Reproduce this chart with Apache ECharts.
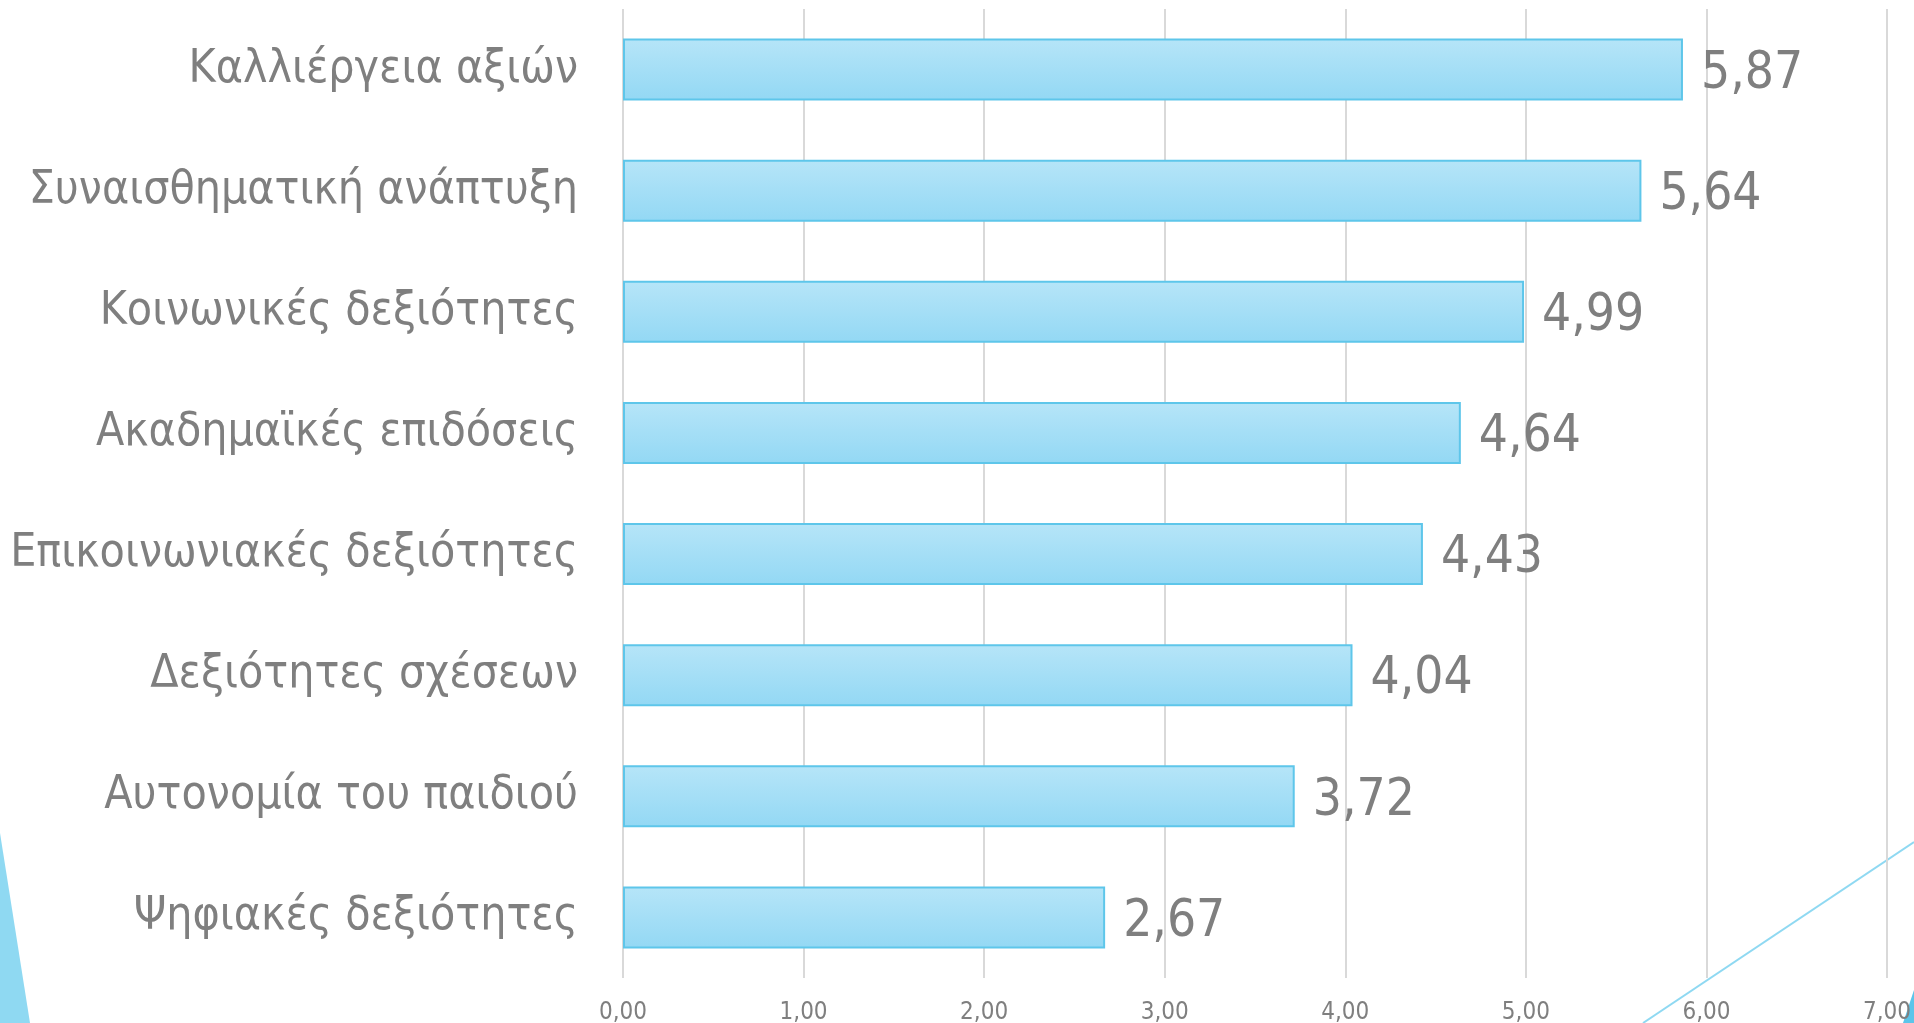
<html>
    <head>
        <meta charset="utf-8">
        <script src="https://cdn.jsdelivr.net/npm/echarts@6/dist/echarts.min.js"></script>
    </head>
    <body>
        <style>
            html, body, #main {
                width: 100%;
                height: 100%;
                margin: 0;
                background: #fff;
            }
        </style>
        <div id="main"></div>
        <script>

        // top to bottom, as shown
        var categories = [
            'Καλλιέργεια αξιών',
            'Συναισθηματική ανάπτυξη',
            'Κοινωνικές δεξιότητες',
            'Ακαδημαϊκές επιδόσεις',
            'Επικοινωνιακές δεξιότητες',
            'Δεξιότητες σχέσεων',
            'Αυτονομία του παιδιού',
            'Ψηφιακές δεξιότητες'
        ];
        var values = [5.87, 5.64, 4.99, 4.64, 4.43, 4.04, 3.72, 2.67];

        var axisMin = 0;
        var axisMax = 7;
        var axisStep = 1;

        var fontName = "'Liberation Sans Narrow', 'DejaVu Sans Condensed', sans-serif";
        var grey = '#7f7f7f';

        function comma(v, digits) {
            return v.toFixed(digits).replace('.', ',');
        }

        var chart = echarts.init(document.getElementById('main'));

        chart.setOption({
            animation: false,
            grid: {
                left: 623,
                right: 27,
                top: 9,
                bottom: 45,
                outerBoundsMode: 'none',
                containLabel: false
            },
            xAxis: {
                type: 'value',
                min: axisMin,
                max: axisMax,
                interval: axisStep,
                axisLine: { show: false },
                axisTick: { show: false },
                splitLine: {
                    lineStyle: { color: '#d9d9d9', width: 2 }
                },
                axisLabel: {
                    margin: 23,
                    color: grey,
                    fontSize: 24,
                    fontFamily: fontName,
                    formatter: function (v) { return comma(v, 2); }
                }
            },
            yAxis: {
                type: 'category',
                inverse: true,
                data: categories,
                axisLine: { show: false },
                axisTick: { show: false },
                axisLabel: {
                    margin: 45,
                    color: grey,
                    fontSize: 46,
                    fontFamily: fontName,
                    padding: [8, 0, 0, 0]
                }
            },
            series: [
                {
                    type: 'bar',
                    data: values,
                    barWidth: 62,
                    itemStyle: {
                        color: new echarts.graphic.LinearGradient(0, 0, 0, 1, [
                            { offset: 0, color: '#b6e5f8' },
                            { offset: 1, color: '#93d8f4' }
                        ]),
                        borderColor: '#5ec6ea',
                        borderWidth: 2
                    },
                    label: {
                        show: true,
                        position: 'right',
                        distance: 18,
                        offset: [0, 5],
                        color: grey,
                        fontSize: 51,
                        fontFamily: fontName,
                        formatter: function (p) { return comma(p.value, 2); }
                    }
                }
            ],
            graphic: [
                {
                    type: 'polygon',
                    shape: { points: [[0, 833], [30, 1023], [0, 1023]] },
                    style: { fill: '#8fd9f2' }
                },
                {
                    type: 'line',
                    shape: { x1: 1643, y1: 1023, x2: 1914, y2: 842 },
                    style: { stroke: '#8fd9f2', lineWidth: 2 }
                },
                {
                    type: 'polygon',
                    shape: { points: [[1914, 990], [1903, 1023], [1914, 1023]] },
                    style: { fill: '#5bc5ea' }
                }
            ]
        });

        </script>
    </body>
</html>
